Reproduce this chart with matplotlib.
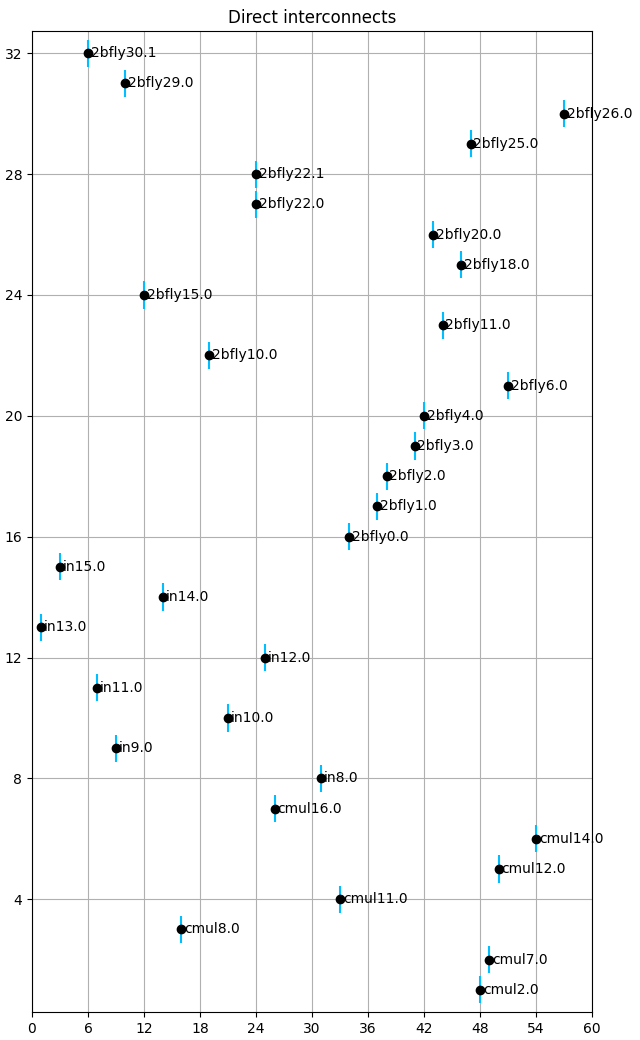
import matplotlib
matplotlib.use("Agg")
import matplotlib.pyplot as plt

# Points (x = position, y = rang) et leurs étiquettes
labels = ["2bfly30.1", "2bfly29.0", "2bfly26.0", "2bfly25.0", "2bfly22.1", "2bfly22.0",
          "2bfly20.0", "2bfly18.0", "2bfly15.0", "2bfly11.0", "2bfly10.0", "2bfly6.0",
          "2bfly4.0", "2bfly3.0", "2bfly2.0", "2bfly1.0", "2bfly0.0",
          "in15.0", "in14.0", "in13.0", "in12.0", "in11.0", "in10.0", "in9.0", "in8.0",
          "cmul16.0", "cmul14.0", "cmul12.0", "cmul11.0", "cmul8.0", "cmul7.0", "cmul2.0"]
x_vals = [6, 10, 57, 47, 24, 24, 43, 46, 12, 44, 19, 51, 42, 41, 38, 37, 34,
          3, 14, 1, 25, 7, 21, 9, 31,
          26, 54, 50, 33, 16, 49, 48]
y_vals = [32, 31, 30, 29, 28, 27, 26, 25, 24, 23, 22, 21, 20, 19, 18, 17, 16,
          15, 14, 13, 12, 11, 10, 9, 8,
          7, 6, 5, 4, 3, 2, 1]
y_err = 0.45

fig, ax = plt.subplots(figsize=(6.4, 10.4), dpi=100)

ax.errorbar(x_vals, y_vals, yerr=y_err, fmt='o', color='black', ecolor='deepskyblue',
            elinewidth=1.5, markersize=6, zorder=4)
for x, y, lab in zip(x_vals, y_vals, labels):
    ax.annotate(lab, (x, y), xytext=(2, 0), textcoords='offset points',
                ha='left', va='center', fontsize=10, zorder=3)

ax.set_xlim(0, 60)
ax.set_ylim(0.27, 32.73)
ax.set_xticks(range(0, 61, 6))
ax.set_yticks(range(4, 33, 4))
ax.grid(True)
ax.set_axisbelow(True)
ax.set_title('Direct interconnects')

fig.subplots_adjust(left=0.05, right=0.925, bottom=0.027, top=0.97)
plt.savefig('out.png', dpi=100)
